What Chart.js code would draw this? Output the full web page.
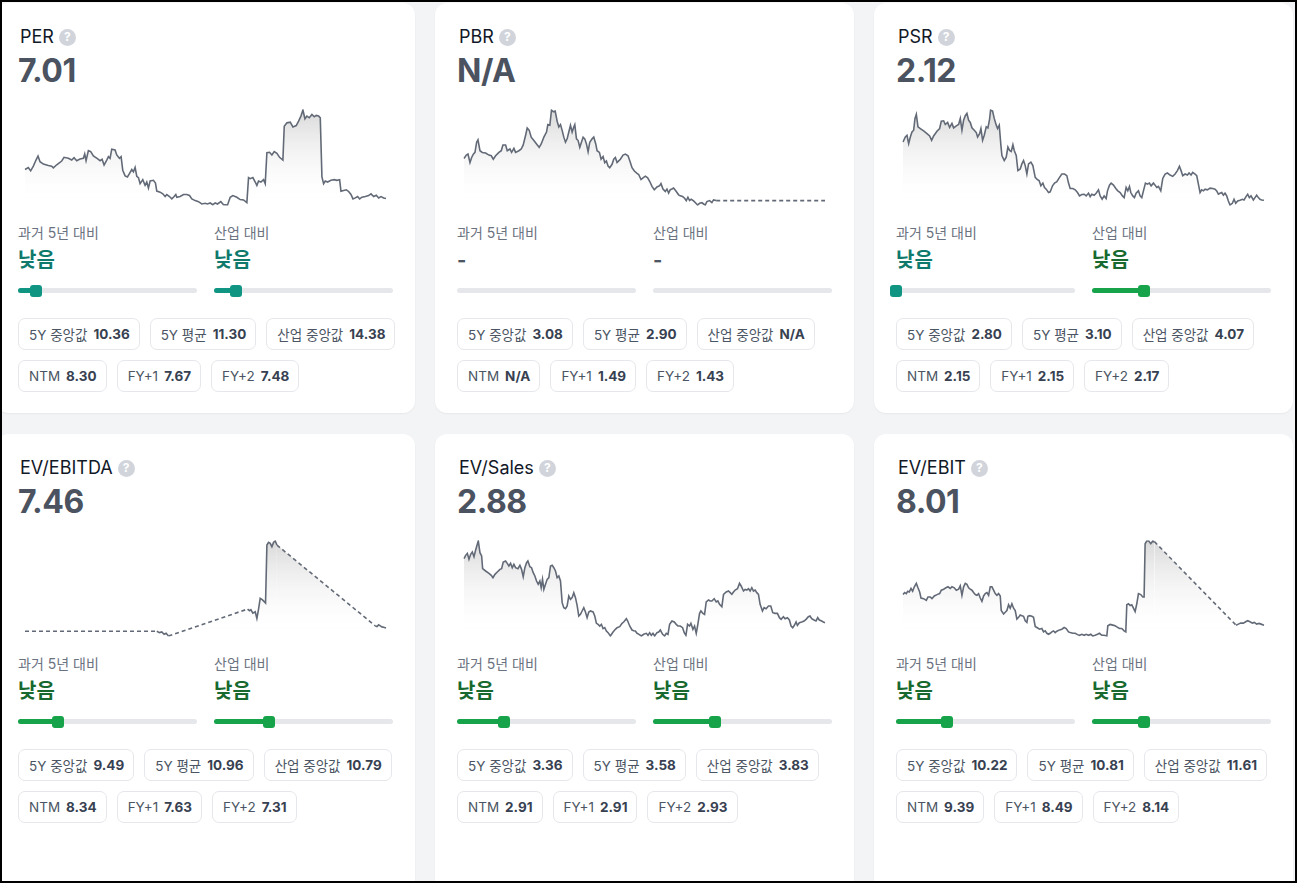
<!DOCTYPE html>
<html lang="ko">
<head>
<meta charset="utf-8">
<script src="https://cdn.jsdelivr.net/npm/chart.js@4.4.1/dist/chart.umd.min.js"></script>
<style>
  html,body{margin:0;padding:0;}
  body{width:1297px;height:883px;background:#f3f4f6;position:relative;overflow:hidden;
       font-family:Inter,"Noto Sans CJK KR","Noto Sans",sans-serif;}
  .frame{position:absolute;left:0;top:0;width:1297px;height:883px;box-sizing:border-box;border:2px solid #000;z-index:10;pointer-events:none;}
  .card{position:absolute;width:419px;height:410px;background:#fff;border-radius:12px;box-shadow:0 1px 2px rgba(0,0,0,0.05);}
  .title{position:absolute;left:24px;top:22px;font-size:18px;line-height:24px;color:#111827;display:flex;align-items:center;}
  .q{display:inline-flex;width:17px;height:17px;border-radius:50%;background:#d1d5db;color:#fff;font-size:12px;font-weight:700;align-items:center;justify-content:center;margin-left:5px;}
  .value{position:absolute;left:22px;top:48px;font-size:32px;line-height:40px;font-weight:700;color:#4b5260;letter-spacing:-0.5px;}
  .chartbox{position:absolute;left:22px;top:97px;width:375px;height:115px;}
  .col{position:absolute;top:220px;width:179px;}
  .lab{font-size:14px;line-height:20px;color:#6b7280;height:20px;}
  .verdict{margin-top:3px;font-size:20px;line-height:28px;font-weight:700;height:28px;}
  .track{position:absolute;top:65px;left:0;width:179px;height:5px;border-radius:3px;background:#e5e7eb;}
  .fillbar{position:absolute;top:0;left:0;height:5px;border-radius:3px;}
  .thumb{position:absolute;top:-3.5px;width:12px;height:12px;border-radius:3px;}
  .boxrow{position:absolute;left:22px;display:flex;gap:10px;}
  .box{height:30px;border:1px solid #e5e7eb;border-radius:7px;padding:0 9px 0 10px;display:flex;align-items:center;font-size:13.5px;color:#4b5563;white-space:nowrap;}
  .box b{margin-left:6px;color:#374151;font-weight:700;}
</style>
</head>
<body>
<div class="frame"></div>
<script>
// ---- Card texts ----
const titles = ['PER', 'PBR', 'PSR', 'EV/EBITDA', 'EV/Sales', 'EV/EBIT'];
const currentValues = ['7.01', 'N/A', '2.12', '7.46', '2.88', '8.01'];
const median5Y = ['10.36', '3.08', '2.80', '9.49', '3.36', '10.22'];
const average5Y = ['11.30', '2.90', '3.10', '10.96', '3.58', '10.81'];
const industryMedian = ['14.38', 'N/A', '4.07', '10.79', '3.83', '11.61'];
const ntmValues = ['8.30', 'N/A', '2.15', '8.34', '2.91', '9.39'];
const fy1Values = ['7.67', '1.49', '2.15', '7.63', '2.91', '8.49'];
const fy2Values = ['7.48', '1.43', '2.17', '7.31', '2.93', '8.14'];
const histVerdict = ['낮음', '-', '낮음', '낮음', '낮음', '낮음'];
const indVerdict = ['낮음', '-', '낮음', '낮음', '낮음', '낮음'];
const histPosition = [0.10, null, 0.0, 0.222, 0.263, 0.285];
const indPosition = [0.123, null, 0.289, 0.305, 0.346, 0.29];
const histTone = ['teal', null, 'teal', 'green', 'green', 'green'];
const indTone = ['teal', null, 'green', 'green', 'green', 'green'];

// ---- Sparkline series (day index, multiple level; null = no data) ----
const perDays = [45,55,62,70,78,84,90,100,115,125,130,140,155,162,175,185,192,200,210,220,224,228,235,242,250,262,270,276,282,290,295,300,305,315,320,328,333,338,345,352,358,365,370,375,380,385,390,398,405,410,415,420,430,436,440,450,458,465,470,478,485,492,497,500,510,520,530,538,545,555,565,575,585,592,600,608,615,622,632,640,652,660,668,680,690,700,710,715,720,728,735,740,745,752,760,765,770,778,785,792,800,808,818,822,830,840,848,858,865,872,878,884,890,897,905,912,918,925,930,935,940,945,952,962,972,980,988,992,1000,1008,1015,1022,1028,1035,1042,1048,1055,1065,1075,1082,1090,1098,1105,1112,1120,1127];
const perValues = [12.2,12.8,11.8,13.2,15.0,16.2,14.5,13.8,13.4,13.2,12.7,13.6,14.7,15.8,15.5,15.0,15.7,14.8,15.3,15.5,16.8,14.8,17.8,17.5,16.2,15.4,14.8,15.2,13.5,15.0,16.0,15.5,18.2,18.0,16.5,15.5,16.0,12.0,10.3,10.0,11.0,12.2,11.5,12.8,10.2,9.8,8.0,9.2,7.5,8.5,6.7,8.8,9.0,8.2,5.8,5.5,5.0,4.2,4.8,4.2,3.5,4.2,4.8,4.0,4.2,4.8,4.8,4.5,3.5,3.0,2.7,2.0,2.2,2.0,2.3,1.8,2.3,2.0,2.7,1.8,1.7,4.0,4.5,4.0,3.3,3.2,2.4,9.8,9.5,9.8,8.5,7.5,8.8,8.5,9.2,8.0,17.2,17.3,16.5,17.5,17.0,15.8,15.0,25.0,26.0,26.2,24.8,25.2,26.5,28.0,29.8,27.2,28.0,27.5,28.5,27.8,28.2,28.0,27.5,10.0,8.0,8.8,8.5,9.0,9.2,9.0,9.2,5.8,6.0,6.2,5.7,4.8,3.5,3.8,4.2,3.5,4.0,4.2,4.5,5.0,4.2,4.6,3.8,4.2,3.8,3.6];

const pbrDays = [40,47,52,58,63,68,73,78,82,88,95,105,115,122,128,135,145,152,157,165,170,178,183,190,195,205,212,218,225,230,236,242,250,258,266,272,280,288,292,298,303,308,314,320,325,330,335,340,345,350,355,360,365,370,373,378,383,388,393,398,403,408,413,418,425,430,436,440,447,452,458,463,468,473,478,485,490,495,500,505,510,518,525,533,540,545,552,560,565,572,578,585,592,598,605,612,620,628,632,638,645,650,655,660,665,670,678,685,690,697,703,708,713,718,723,730,737,742,748,755,760,765,770,778,785,790,798,960,1125];
const pbrValues = [17.2,18.2,18.5,16.0,17.5,18.5,19.0,22.0,22.7,19.5,19.0,18.8,18.2,18.0,17.0,18.0,19.0,19.5,21.2,21.2,19.5,20.0,19.0,20.2,19.0,19.5,20.0,21.2,24.0,26.2,25.5,23.5,22.5,21.5,20.5,21.5,23.5,25.0,27.2,27.0,31.5,31.0,31.2,28.2,26.5,27.2,25.5,23.5,22.0,23.0,25.0,27.0,25.0,26.5,27.2,23.0,22.5,20.5,22.0,23.5,23.0,21.5,19.2,22.0,23.0,23.5,21.5,19.5,19.0,17.0,17.8,16.0,16.5,15.0,14.5,15.5,17.0,17.5,16.0,16.5,17.0,18.2,18.5,18.0,16.0,14.5,13.5,12.8,12.5,11.0,11.5,12.0,11.5,10.5,9.0,8.0,8.8,9.2,9.8,8.2,7.5,8.2,7.0,8.0,8.2,8.5,7.5,6.5,6.2,6.0,5.5,4.8,5.8,4.8,5.2,4.7,4.0,3.5,4.0,4.2,3.8,3.5,4.5,4.8,4.2,5.0,4.8,null,4.8];

const psrDays = [38,45,50,55,60,65,70,74,78,83,90,100,110,118,124,130,140,148,153,160,165,172,178,185,190,198,205,210,215,220,225,230,235,240,245,252,258,262,268,272,277,282,288,293,298,301,307,312,318,322,327,332,335,342,348,353,358,363,368,372,378,383,390,395,400,405,410,415,422,428,435,440,447,452,458,463,468,475,480,487,493,500,508,515,523,530,535,540,548,555,562,568,575,582,588,595,600,605,612,618,625,630,636,642,648,652,658,663,670,677,683,690,697,702,708,713,718,722,728,733,738,745,750,755,760,766,772,778,783,790,795,800,805,812,818,825,832,840,848,855,862,868,873,878,885,892,897,903,908,915,920,925,930,935,940,945,952,960,968,975,980,985,990,995,1000,1005,1010,1015,1020,1027,1032,1037,1043,1050,1057,1062,1068,1073,1078,1083,1090,1095,1100,1105,1110,1115,1122];
const psrValues = [22.0,23.5,24.0,21.5,23.5,25.0,25.5,29.0,30.2,26.5,26.0,25.3,24.5,23.8,22.5,23.8,25.2,26.0,28.2,28.3,27.2,27.8,26.3,27.5,26.2,26.8,27.2,29.0,25.5,28.5,29.8,30.5,28.5,27.8,26.2,25.5,24.8,23.5,24.5,26.0,22.5,24.0,26.5,26.2,28.8,31.5,31.2,29.0,27.0,26.0,27.0,21.0,18.0,16.5,17.5,20.5,19.5,19.2,21.2,19.5,18.0,13.5,14.0,15.5,16.5,15.0,12.5,15.5,16.0,15.0,11.5,11.0,10.5,9.0,9.8,8.5,8.0,7.0,7.2,9.0,9.8,10.2,11.5,12.5,12.5,12.0,9.8,8.2,8.2,7.8,7.0,6.0,6.4,6.5,6.0,6.8,5.8,6.5,6.2,6.8,7.8,6.0,5.0,6.0,5.2,7.5,9.2,9.8,9.2,8.2,7.5,7.0,6.0,5.5,8.5,7.5,8.8,7.0,6.0,5.5,6.8,7.5,6.0,5.5,7.5,9.8,9.5,9.8,9.0,9.8,9.2,8.5,8.8,7.5,11.2,12.5,12.8,12.2,11.8,12.5,13.5,14.8,13.5,12.0,12.5,12.2,12.8,12.2,13.0,12.5,12.0,9.5,7.0,7.8,7.5,8.0,7.8,8.3,8.2,8.0,7.5,6.5,6.8,7.0,6.2,6.8,6.0,4.5,3.3,3.8,5.0,3.8,4.5,4.7,5.0,4.8,5.8,6.5,5.5,6.0,4.8,5.5,6.2,5.5,5.0,4.8,4.7];

const evEbitdaDays = [45,250,440,448,455,462,468,475,600,712,718,722,728,735,740,745,750,756,762,766,770,775,780,785,790,795,800,950,1095,1100,1105,1110,1115,1120,1127];
const evEbitdaValues = [4.4,null,4.4,4.0,4.2,3.5,3.8,3.0,null,11.0,10.5,10.8,9.8,10.2,8.2,11.0,14.2,13.8,13.2,12.8,30.0,30.8,30.5,29.5,30.8,31.2,30.0,null,6.0,5.8,6.3,6.0,5.7,5.6,5.4];

const evSalesDays = [40,45,50,55,60,65,70,75,80,83,88,93,96,105,115,122,127,133,140,148,153,158,165,170,175,180,185,190,195,202,208,213,218,223,228,232,238,243,248,253,258,263,268,272,276,280,285,290,295,300,305,310,315,320,325,330,335,340,345,350,355,360,365,370,375,380,385,390,395,400,405,410,415,420,428,433,438,443,448,453,458,463,468,473,480,488,495,500,508,515,520,528,532,538,545,550,555,560,566,573,580,588,593,598,603,608,613,620,625,630,637,643,648,653,658,665,672,678,683,690,697,702,707,712,718,722,728,733,738,742,748,752,758,763,768,775,780,785,792,798,803,808,815,820,828,835,840,845,850,855,862,868,873,880,885,890,895,900,905,910,915,920,925,930,937,942,948,955,962,968,975,982,988,993,1000,1005,1012,1018,1023,1028,1033,1038,1042,1048,1055,1062,1068,1075,1080,1085,1092,1098,1103,1108,1115,1120,1125];
const evSalesValues = [26.2,27.2,27.8,26.0,27.5,28.2,26.8,28.8,30.5,31.5,28.0,27.0,23.2,22.5,21.8,21.2,20.5,21.5,22.2,23.0,23.2,25.2,25.5,24.8,24.0,24.8,23.5,24.5,23.5,23.2,24.2,23.0,20.8,23.5,25.0,25.5,23.8,23.5,22.0,21.0,19.5,18.5,19.5,17.5,20.0,17.0,18.5,20.0,20.5,24.0,24.2,23.5,22.5,20.5,21.0,19.5,13.0,11.5,11.2,12.0,15.0,14.0,14.5,16.0,14.5,12.2,9.0,9.5,10.5,11.5,10.2,8.5,10.2,10.5,10.2,9.0,6.8,6.5,6.0,6.5,5.2,5.5,4.5,4.0,3.0,4.2,5.0,5.5,5.8,6.8,7.2,8.2,7.5,6.0,4.8,4.6,4.5,3.8,3.5,3.0,3.5,3.8,3.2,4.0,3.2,3.8,3.0,4.0,4.2,4.8,3.5,3.0,3.8,3.5,6.5,7.5,7.2,6.5,6.0,6.0,5.5,4.0,3.2,6.5,6.0,6.8,5.0,6.0,3.8,6.0,9.8,10.5,9.8,9.5,13.2,13.8,13.5,13.5,14.2,13.2,13.5,12.5,11.8,15.5,16.2,16.5,16.0,15.5,16.2,16.8,17.2,18.8,18.0,16.5,17.0,16.8,17.2,16.5,17.5,16.5,16.8,16.0,15.5,12.5,10.5,11.5,11.2,12.0,12.0,10.0,9.8,9.8,8.5,8.0,8.8,8.2,8.5,7.8,6.0,5.5,6.2,7.2,6.2,7.0,7.2,7.5,8.0,8.8,9.0,8.2,7.8,7.5,8.5,7.8,7.5,7.2,7.0];

const evEbitDays = [38,43,48,52,57,62,67,72,78,83,88,92,100,108,113,120,125,132,140,148,153,160,167,173,180,185,192,198,205,210,215,220,225,230,235,240,245,250,255,260,265,270,275,280,285,290,295,300,305,310,315,320,325,330,333,340,345,350,355,360,365,370,375,380,385,390,395,400,405,410,413,418,425,430,435,440,448,455,460,465,470,475,480,485,490,495,500,508,515,522,528,535,540,548,555,562,568,575,582,588,595,602,608,615,622,628,635,642,650,653,660,668,675,680,688,695,702,707,710,715,720,725,730,735,740,745,752,758,762,765,770,776,782,788,793,915,1038,1045,1052,1060,1067,1073,1080,1087,1093,1100,1107,1113,1122];
const evEbitValues = [15.2,15.8,15.5,16.2,16.0,17.0,16.2,17.5,18.5,17.2,16.0,14.2,14.0,13.5,14.5,14.5,14.0,14.8,15.2,15.5,16.5,16.8,17.2,17.5,17.0,17.5,17.2,16.5,16.8,17.8,15.0,17.5,18.5,18.2,17.2,16.8,16.5,15.8,15.2,15.0,15.5,14.2,13.2,14.8,15.5,15.8,15.0,17.5,17.5,16.5,15.5,15.0,15.5,14.8,10.5,9.5,10.0,10.5,12.2,11.2,12.5,11.2,10.5,8.0,8.5,9.2,9.0,8.8,7.5,7.0,8.8,9.0,8.8,8.5,5.8,5.5,5.0,5.2,4.2,4.5,3.8,3.5,3.8,4.2,4.5,4.0,4.4,4.8,5.0,5.5,5.2,4.2,4.0,3.8,3.8,3.4,3.2,3.5,3.2,3.5,3.2,3.5,3.0,3.2,3.5,3.8,3.2,3.2,3.0,6.0,6.4,6.2,6.0,5.7,5.2,5.2,4.5,4.2,12.2,12.5,12.0,12.2,11.2,10.2,12.5,15.5,15.2,14.5,14.5,30.2,31.0,31.0,30.2,31.0,30.8,null,6.2,6.5,6.8,6.8,7.2,7.5,7.2,6.8,7.0,6.5,6.7,6.5,6.2];

const seriesDays = [perDays, pbrDays, psrDays, evEbitdaDays, evSalesDays, evEbitDays];
const seriesValues = [perValues, pbrValues, psrValues, evEbitdaValues, evSalesValues, evEbitValues];

// ---- Layout ----
const cardLeft = [-4, 435, 874, -4, 435, 874];
const cardTop = [3, 3, 3, 434, 434, 434];
const toneText = {teal: '#0f7a6c', green: '#17692f'};
const toneBar = {teal: '#0f9582', green: '#16a34a'};

function el(tag, cls, parent, html) {
  const e = document.createElement(tag);
  if (cls) e.className = cls;
  if (html !== undefined) e.innerHTML = html;
  if (parent) parent.appendChild(e);
  return e;
}

function makeCol(card, left, label, verdict, pos, tone) {
  const col = el('div', 'col', card);
  col.style.left = left + 'px';
  el('div', 'lab', col, label);
  const v = el('div', 'verdict', col, verdict);
  v.style.color = tone ? toneText[tone] : '#4b5563';
  const tr = el('div', 'track', col);
  if (pos !== null) {
    const w = 179;
    const c = pos * w;
    const f = el('div', 'fillbar', tr);
    f.style.width = c + 'px';
    f.style.background = toneBar[tone];
    const th = el('div', 'thumb', tr);
    th.style.left = (c - 6) + 'px';
    th.style.background = toneBar[tone];
  }
}

function makeChart(canvas, days, values) {
  const points = days.map((d, i) => ({x: d, y: values[i]}));
  new Chart(canvas, {
    type: 'line',
    data: {datasets: [{
      data: points,
      borderColor: '#636a77',
      borderWidth: 1.6,
      pointRadius: 0,
      tension: 0,
      spanGaps: true,
      fill: 'start',
      backgroundColor: (ctx) => {
        const chart = ctx.chart; const a = chart.chartArea;
        if (!a) return 'rgba(0,0,0,0)';
        const g = chart.ctx.createLinearGradient(0, a.top, 0, a.bottom);
        g.addColorStop(0, 'rgba(140,140,140,0.33)');
        g.addColorStop(1, 'rgba(255,255,255,0)');
        return g;
      },
      segment: {borderDash: (ctx) => (ctx.p0.skip || ctx.p1.skip) ? [4, 3] : undefined}
    }]},
    options: {
      responsive: false, animation: false, events: [],
      layout: {padding: {left: 7, right: 7, top: 10, bottom: 10}},
      plugins: {legend: {display: false}, tooltip: {enabled: false}},
      scales: {
        x: {type: 'linear', display: false, bounds: 'data'},
        y: {type: 'linear', display: false, bounds: 'data'}
      }
    }
  });
}

for (let i = 0; i < 6; i++) {
  const card = el('div', 'card', document.body);
  card.style.left = cardLeft[i] + 'px';
  card.style.top = cardTop[i] + 'px';
  if (i >= 3) card.style.height = '470px';
  el('div', 'title', card, titles[i] + '<span class="q">?</span>');
  el('div', 'value', card, currentValues[i]);
  const box = el('div', 'chartbox', card);
  const cv = el('canvas', null, box);
  cv.width = 375; cv.height = 115;
  makeCol(card, 22, '과거 5년 대비', histVerdict[i], histPosition[i], histTone[i]);
  makeCol(card, 218, '산업 대비', indVerdict[i], indPosition[i], indTone[i]);
  const r1 = el('div', 'boxrow', card); r1.style.top = '315px';
  el('div', 'box', r1, '5Y 중앙값<b>' + median5Y[i] + '</b>');
  el('div', 'box', r1, '5Y 평균<b>' + average5Y[i] + '</b>');
  el('div', 'box', r1, '산업 중앙값<b>' + industryMedian[i] + '</b>');
  const r2 = el('div', 'boxrow', card); r2.style.top = '357px';
  el('div', 'box', r2, 'NTM<b>' + ntmValues[i] + '</b>');
  el('div', 'box', r2, 'FY+1<b>' + fy1Values[i] + '</b>');
  el('div', 'box', r2, 'FY+2<b>' + fy2Values[i] + '</b>');
  makeChart(cv, seriesDays[i], seriesValues[i]);
}
</script>
</body>
</html>
